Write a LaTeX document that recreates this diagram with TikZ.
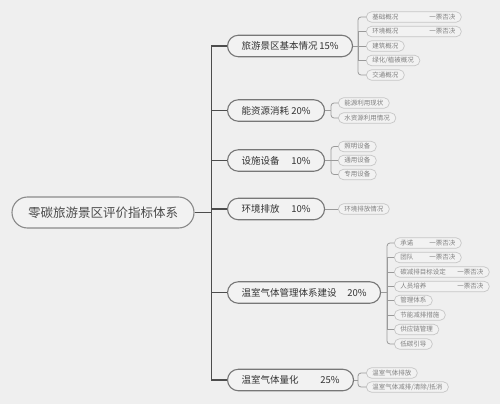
\documentclass[tikz,border=0pt]{standalone}
\usepackage{fontspec}
\setmainfont{Noto Sans CJK SC}
\definecolor{bgc}{HTML}{EFEFEF}
\definecolor{nodef}{HTML}{F2F2F2}
\definecolor{rootc}{HTML}{8A8A8A}
\definecolor{lonec}{HTML}{777777}
\definecolor{leafc}{HTML}{C6C6C6}
\definecolor{trunkc}{HTML}{4D4D4D}
\definecolor{brc}{HTML}{9A9A9A}
\definecolor{roottxt}{HTML}{4A4A4A}
\definecolor{lonetxt}{HTML}{333333}
\definecolor{leaftxt}{HTML}{808080}
\begin{document}
\begin{tikzpicture}[x=1pt,y=-1pt,
 rootbox/.style={draw=rootc, line width=1.1pt, fill=nodef, rounded corners=15.5pt, minimum height=31pt, minimum width=182pt, font=\fontsize{12.5}{14}\selectfont, text=roottxt, inner sep=0pt},
 lone/.style={draw=lonec, line width=1.1pt, fill=nodef, rounded corners=10.75pt, minimum height=21.5pt, inner xsep=14pt, inner ysep=0pt, font=\fontsize{9.5}{11}\selectfont, text=lonetxt, anchor=west},
 leaf/.style={draw=leafc, line width=0.7pt, fill=nodef, rounded corners=5.25pt, minimum height=10.5pt, inner xsep=6pt, inner ysep=0pt, font=\fontsize{6.5}{7}\selectfont, text=leaftxt, anchor=west},
 trunk/.style={draw=trunkc, line width=1.4pt},
 br/.style={draw=brc, line width=0.8pt},
 brr/.style={draw=brc, line width=0.8pt, rounded corners=3pt},
]
\fill[bgc] (0,0) rectangle (500,404);
\useasboundingbox (0,0) rectangle (500,404);

% root
\node[rootbox] (root) at (103,212.5) {零碳旅游景区评价指标体系};
\coordinate (tr) at (211.5,212.5);

% level one
\node[lone] (n1) at (227,46) {\makebox[97pt][l]{旅游景区基本情况\hfill 15\%}};
\node[lone] (n2) at (227,110.5) {\makebox[69pt][l]{能资源消耗\hfill 20\%}};
\node[lone] (n3) at (227,160.5) {\makebox[69pt][l]{设施设备\hfill 10\%}};
\node[lone] (n4) at (227,209) {\makebox[69pt][l]{环境排放\hfill 10\%}};
\node[lone] (n5) at (227,292.5) {\makebox[125pt][l]{温室气体管理体系建设\hfill 20\%}};
\node[lone] (n6) at (227,380) {\makebox[98pt][l]{温室气体量化\hfill 25\%}};

\draw[trunk] (root.east) -- (tr);
\foreach \n in {n1,n2,n3,n4,n5,n6} \draw[trunk] (tr) |- (\n.west);

% group 1
\node[leaf] (a1) at (366,17) {\makebox[83pt][l]{基础概况\hfill 一票否决}};
\node[leaf] (a2) at (366,31.5) {\makebox[83pt][l]{环境概况\hfill 一票否决}};
\node[leaf] (a3) at (366,46) {建筑概况};
\node[leaf] (a4) at (366,60.5) {绿化/植被概况};
\node[leaf] (a5) at (366,75) {交通概况};
\coordinate (b1) at (358,46);
\draw[br] (n1.east) -- (b1);
\draw[brr] (b1) |- (a1.west);
\draw[brr] (b1) |- (a5.west);
\foreach \l in {a2,a3,a4} \draw[br] (b1) |- (\l.west);

% group 2
\node[leaf] (c1) at (338,103) {能源利用现状};
\node[leaf] (c2) at (338,118) {水资源利用情况};
\coordinate (b2) at (331,110.5);
\draw[br] (n2.east) -- (b2);
\draw[brr] (b2) |- (c1.west);
\draw[brr] (b2) |- (c2.west);

% group 3
\node[leaf] (d1) at (338,146.5) {照明设备};
\node[leaf] (d2) at (338,160.5) {通用设备};
\node[leaf] (d3) at (338,174.5) {专用设备};
\coordinate (b3) at (331,160.5);
\draw[br] (n3.east) -- (b3);
\draw[brr] (b3) |- (d1.west);
\draw[brr] (b3) |- (d3.west);
\draw[br] (b3) -- (d2.west);

% group 4
\node[leaf] (e1) at (338,209) {环境排放情况};
\draw[br] (n4.east) -- (e1.west);

% group 5
\node[leaf] (f1) at (394,243) {\makebox[55pt][l]{承诺\hfill 一票否决}};
\node[leaf] (f2) at (394,257.5) {\makebox[55pt][l]{团队\hfill 一票否决}};
\node[leaf] (f3) at (394,272) {\makebox[83pt][l]{碳减排目标设定\hfill 一票否决}};
\node[leaf] (f4) at (394,286.5) {\makebox[83pt][l]{人员培养\hfill 一票否决}};
\node[leaf] (f5) at (394,300.5) {管理体系};
\node[leaf] (f6) at (394,315) {节能减排措施};
\node[leaf] (f7) at (394,329.5) {供应链管理};
\node[leaf] (f8) at (394,344) {低碳引导};
\coordinate (b5) at (387,292.5);
\draw[br] (n5.east) -- (b5);
\draw[brr] (b5) |- (f1.west);
\draw[brr] (b5) |- (f8.west);
\foreach \l in {f2,f3,f4,f5,f6,f7} \draw[br] (b5) |- (\l.west);

% group 6
\node[leaf] (g1) at (366,373) {温室气体排放};
\node[leaf] (g2) at (366,387) {温室气体减排/清除/抵消};
\coordinate (b6) at (358,380);
\draw[br] (n6.east) -- (b6);
\draw[brr] (b6) |- (g1.west);
\draw[brr] (b6) |- (g2.west);
\end{tikzpicture}
\end{document}
